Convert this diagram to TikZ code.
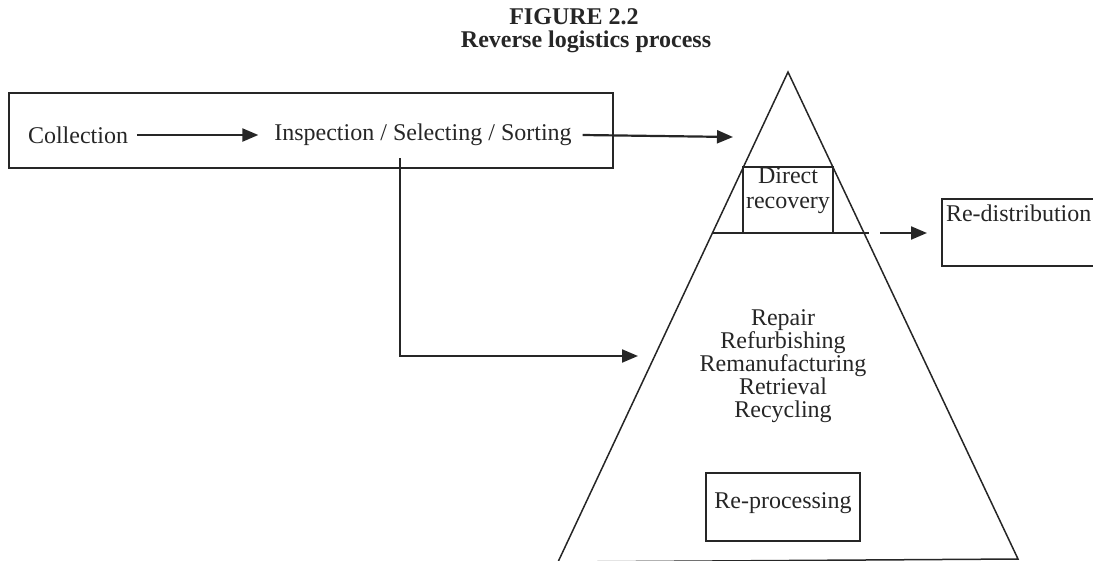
\documentclass[tikz,border=0pt]{standalone}
\usepackage{fontspec}
\setmainfont{Liberation Serif}
\usetikzlibrary{arrows.meta}
\definecolor{ink}{HTML}{262626}
\begin{document}
\begin{tikzpicture}[x=1pt,y=-1pt,
  every node/.style={inner sep=0pt, outer sep=0pt, text=ink},
  txt/.style={font=\fontsize{24}{23}\selectfont, align=center},
  headline/.style={font=\fontsize{24}{26}\selectfont\bfseries},
  frame/.style={draw=ink, line width=1.5pt},
  arr/.style={draw=ink, line width=2.2pt, -{Triangle[length=16pt,width=13pt]}},
  link/.style={draw=ink, line width=2.2pt}
]
\useasboundingbox (0,0) rectangle (1093,560);
\clip (0,0) rectangle (1093,560);

% heading
\node[headline] (fig) at (574,17) {FIGURE 2.2};
\node[headline] (sub) at (586,42) {Reverse logistics process};

% collection / inspection strip
\node[frame, minimum width=604pt, minimum height=75pt] (strip) at (311,130.5) {};
\node[txt] (coll) at (78,135) {Collection};
\node[txt] (insp) at (423,135) {Inspection / Selecting / Sorting};
\draw[arr] ([xshift=9pt]coll.east) -- ([xshift=-16pt]insp.west);

% recovery pyramid
\coordinate (apex) at (788,72);
\coordinate (bl) at (558,562);
\coordinate (br) at (1018,559);
\draw[frame] (bl) -- (apex) -- (br) -- cycle;
\coordinate (shl) at (712,233);
\coordinate (shr) at (869,233);
\draw[frame] (shl) -- (shr);

% flows into the pyramid
\coordinate (inlet) at (733,137);
\draw[arr] ([xshift=11pt]insp.east) -- (inlet);
\coordinate (drop) at (400,158);
\coordinate (sideinlet) at (638,356);
\draw[arr] (drop) |- (sideinlet);

% direct recovery
\node[frame, minimum width=90pt, minimum height=66pt] (direct) at (788,200) {};
\node[txt, font=\fontsize{24}{25}\selectfont] (directtxt) at (788,191) {Direct\\recovery};

% re-distribution
\node[frame, minimum width=170pt, minimum height=67pt] (redist) at (1027,232.5) {};
\node[txt, anchor=west] (redisttxt) at (946,213) {Re-distribution};
\draw[arr] ([xshift=11pt]shr) -- ([xshift=-15pt]redist.west |- shr);

% re-processing options
\node[txt] (options) at (783,366) {Repair\\Refurbishing\\Remanufacturing\\Retrieval\\Recycling};
\node[frame, minimum width=154pt, minimum height=68pt] (reproc) at (783,507) {};
\node[txt] (reproctxt) at (783,503) {Re-processing};
\end{tikzpicture}
\end{document}
